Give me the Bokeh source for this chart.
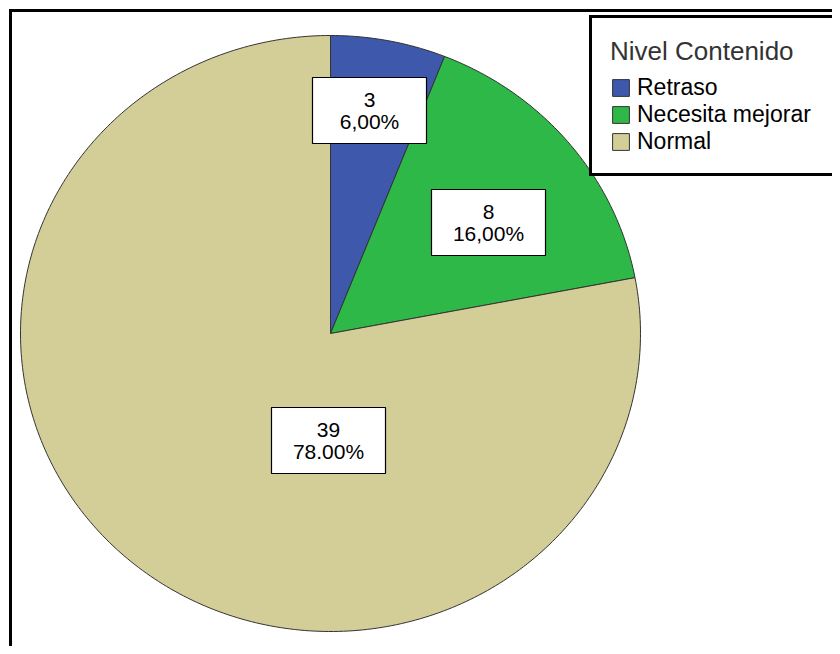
import numpy as np
from bokeh.plotting import figure
from bokeh.models import ColumnDataSource, Range1d
from bokeh.core.properties import value
from bokeh.embed import file_html
from bokeh.resources import INLINE

# ---- data ----
categories = ["Retraso", "Necesita mejorar", "Normal"]
counts = [3, 8, 39]
pct_labels = ["6,00%", "16,00%", "78.00%"]
colors = ["#3E58AC", "#2EB848", "#D3CE97"]
legend_title = "Nivel Contenido"

# ---- layout constants (pixels) ----
RX, RY = 310, 298                 # pie radii (slightly elliptical like the original)
label_dx = [39, 158, -2]          # label box offsets from pie centre
label_dy = [223, 111, -107]

total = sum(counts)
fracs = np.array(counts) / total
starts = np.concatenate([[0], np.cumsum(fracs)[:-1]])
ends = np.cumsum(fracs)

xs, ys = [], []
for s, e in zip(starts, ends):
    n = max(int((e - s) * 400), 4)
    th = np.linspace(s, e, n) * 2 * np.pi   # clockwise from 12 o'clock
    xs.append(np.concatenate([[0], RX * np.sin(th), [0]]).tolist())
    ys.append(np.concatenate([[0], RY * np.cos(th), [0]]).tolist())

src = ColumnDataSource(dict(xs=xs, ys=ys, category=categories, color=colors))

lab_src = ColumnDataSource(dict(
    x=label_dx, y=label_dy,
    text=[f"{c}\n{p}" for c, p in zip(counts, pct_labels)],
))

W, H = 832, 646
CX, CY = 330, 333   # pie centre in figure pixels (from top-left)
p = figure(width=W, height=H, output_backend="svg", toolbar_location=None,
           x_axis_type=None, y_axis_type=None,
           min_border_left=0, min_border_top=0, min_border_right=0, min_border_bottom=0,
           border_fill_color="white", background_fill_color="white",
           outline_line_color=None)
p.x_range = Range1d(-CX, W - CX)
p.y_range = Range1d(-(H - CY), CY)
p.grid.visible = False

# chart frame: only its left and top edges fall inside the picture
frame_x = [10 - CX, 10 - CX, W - CX + 10]
frame_y = [-(H - CY) - 10, CY - 10, CY - 10]
p.line(frame_x, frame_y, line_color="black", line_width=3, line_join="miter")

p.patches("xs", "ys", source=src, fill_color="color", line_color="#333333",
          line_width=1, legend_field="category")

p.rect("x", "y", width=114, height=66, width_units="screen", height_units="screen",
       source=lab_src, fill_color="white", line_color="black", line_width=1.2)
p.text("x", "y", text="text", source=lab_src, text_align="center",
       text_baseline="middle", text_font=value("Liberation Sans"),
       text_font_size="21px", text_color="black", text_line_height=0.97)

lg = p.legend[0]
lg.title = legend_title
lg.title_text_font = "Liberation Sans"
lg.title_text_font_size = "26px"
lg.title_text_font_style = "normal"
lg.title_text_color = "#333333"
lg.title_standoff = 7
lg.label_text_font = "Liberation Sans"
lg.label_text_font_size = "23px"
lg.label_text_color = "black"
lg.glyph_width = 21
lg.glyph_height = 21
lg.label_height = 21
lg.label_standoff = 6
lg.label_width = 200
lg.spacing = 0
lg.padding = 18
lg.margin = 0
lg.border_line_color = "black"
lg.border_line_width = 3
lg.border_line_alpha = 1.0
lg.background_fill_color = "white"
lg.background_fill_alpha = 1
lg.location = (589, H - 176)

open("out.html", "w").write(file_html(p, INLINE))
